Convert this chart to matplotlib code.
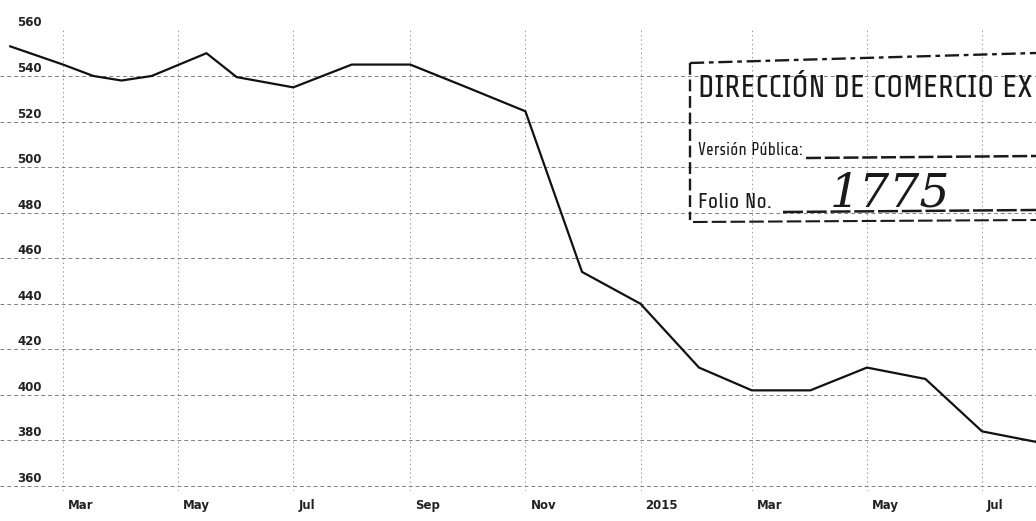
import matplotlib
matplotlib.use("Agg")
import matplotlib.pyplot as plt
import matplotlib.dates as mdates
from matplotlib import font_manager
from matplotlib.textpath import TextPath
from matplotlib.transforms import ScaledTranslation
import pandas as pd

# ---- data ----
dates = ["2014-02-01", "2014-03-01", "2014-03-17", "2014-04-01", "2014-04-17",
         "2014-05-16", "2014-06-01", "2014-07-01", "2014-08-01", "2014-09-01",
         "2014-10-01", "2014-11-01", "2014-12-01", "2015-01-01", "2015-02-01",
         "2015-03-01", "2015-04-01", "2015-05-01", "2015-06-01", "2015-07-01",
         "2015-08-01"]
values = [553, 545, 540, 538, 540,
          550, 539.5, 535, 545, 545,
          535, 524.5, 454, 440, 412,
          402, 402, 412, 407, 384,
          379]
y_ticks = [360, 380, 400, 420, 440, 460, 480, 500, 520, 540, 560]
x_tick_dates = ["2014-03-01", "2014-05-01", "2014-07-01", "2014-09-01", "2014-11-01",
                "2015-01-01", "2015-03-01", "2015-05-01", "2015-07-01"]
x_tick_labels = ["Mar", "May", "Jul", "Sep", "Nov", "2015", "Mar", "May", "Jul"]

stamp_title = "DIRECCIÓN DE COMERCIO EX"
stamp_line1 = "Versión Pública:"
stamp_line2 = "Folio No."
stamp_number = "1775"

W, H = 1036, 521
DPI = 100
fig = plt.figure(figsize=(W / DPI, H / DPI), dpi=DPI)
fig.patch.set_facecolor("white")

# axes: y=560 at px 30.4 from top, y=358 at px 490.6
top_px, bot_px = 30.4, 490.6
ax = fig.add_axes([0, 1 - bot_px / H, 1, (bot_px - top_px) / H])
ax.set_facecolor("white")

x = pd.to_datetime(dates)
ax.plot(x, values, color="#111111", lw=1.6, solid_joinstyle="round", zorder=3)

ax.set_xlim(mdates.date2num(pd.Timestamp("2014-01-26 14:00")),
            mdates.date2num(pd.Timestamp("2015-07-29 14:00")))
ax.set_ylim(358, 560)

for s in ax.spines.values():
    s.set_visible(False)

ax.set_yticks(y_ticks)
ax.set_yticklabels([str(v) for v in y_ticks])
ax.set_xticks(mdates.date2num(pd.to_datetime(x_tick_dates)))
ax.set_xticklabels(x_tick_labels)

ax.tick_params(axis="y", length=0, pad=-12.5, labelsize=8.5, labelcolor="#222222")
ax.tick_params(axis="x", length=0, pad=6, labelsize=8.5, labelcolor="#222222")
for lab in ax.get_yticklabels():
    lab.set_horizontalalignment("left")
    lab.set_verticalalignment("bottom")
    lab.set_fontweight("bold")
    lab.set_transform(lab.get_transform() + ScaledTranslation(0, 1 / 100, fig.dpi_scale_trans))
for lab in ax.get_xticklabels():
    lab.set_horizontalalignment("left")
    lab.set_fontweight("bold")
    lab.set_transform(lab.get_transform() + ScaledTranslation(5 / 100, 0, fig.dpi_scale_trans))

ax.grid(axis="y", color="#808080", lw=0.7, linestyle=(0, (4, 3)), zorder=1)
ax.grid(axis="x", color="#9a9a9a", lw=0.7, linestyle=(0, (1.5, 3)), zorder=1)
ax.yaxis.get_major_ticks()[-1].gridline.set_visible(False)

# ---- stamp ----
def fpx(xp, yp):
    return xp / W, 1 - yp / H

renderer = fig.canvas.get_renderer()


def width_px(s, fp, size):
    t = fig.text(0, 0, s, fontproperties=fp, fontsize=size)
    w = t.get_window_extent(renderer).width
    t.remove()
    return w


def cap_px(fp, size):
    return TextPath((0, 0), "H", size=size, prop=fp).get_extents().height * DPI / 72


# candidate fonts: regular sans faces (narrow/condensed ones included)
candidates = []
for fe in font_manager.fontManager.ttflist:
    nm = fe.name
    if fe.style != "normal" or fe.weight not in (400, "normal", "regular"):
        continue
    if "Mono" in nm or "Serif" in nm or "CJK" in nm:
        continue
    candidates.append(font_manager.FontProperties(fname=fe.fname))

# pick the face whose cap height best matches the stamp when fitted to width
target_w, target_cap = 1034 - 698, 22.0
best, best_err = None, None
for fp in candidates:
    try:
        w = width_px(stamp_title, fp, 20)
        size = 20 * target_w / w
        err = abs(cap_px(fp, size) - target_cap)
    except Exception:
        continue
    if best_err is None or err < best_err:
        best, best_err = fp, err
stamp_fp = best if best is not None else font_manager.FontProperties(family="Liberation Sans")

ink = "#1a1a1a"
bx = 690
# borders
fig.add_artist(plt.Line2D([fpx(bx, 0)[0], 1.0], [fpx(0, 63)[1], fpx(0, 53)[1]],
                          color=ink, lw=1.7, linestyle=(0, (6, 2, 2, 2))))
fig.add_artist(plt.Line2D([fpx(bx, 0)[0]] * 2, [fpx(0, 63)[1], fpx(0, 220)[1]],
                          color=ink, lw=1.7, linestyle=(0, (5, 2))))
fig.add_artist(plt.Line2D([fpx(bx + 3, 0)[0], 1.0], [fpx(0, 222)[1], fpx(0, 220)[1]],
                          color=ink, lw=1.5, linestyle=(0, (7, 2))))
# underlines
fig.add_artist(plt.Line2D([fpx(806, 0)[0], 1.0], [fpx(0, 158)[1], fpx(0, 156)[1]],
                          color=ink, lw=1.8, linestyle=(0, (6, 1.5))))
fig.add_artist(plt.Line2D([fpx(783, 0)[0], 1.0], [fpx(0, 212)[1], fpx(0, 210)[1]],
                          color=ink, lw=1.8, linestyle=(0, (8, 1.5))))


def fit_text(s, x0, x1, ybase, fp):
    t = fig.text(*fpx(x0, ybase), s, ha="left", va="baseline", color=ink,
                 fontproperties=fp)
    t.set_fontsize(20)
    w = t.get_window_extent(renderer).width
    t.set_fontsize(20 * (x1 - x0) / w)
    return t

fit_text(stamp_title, 698, 1034, 97, stamp_fp)
fit_text(stamp_line1, 698, 803, 155, stamp_fp)
fit_text(stamp_line2, 698, 772, 208, stamp_fp)
hand_fp = font_manager.FontProperties(family="DejaVu Serif", style="italic")
fit_text(stamp_number, 830, 950, 207, hand_fp)

fig.savefig("out.png", dpi=DPI, facecolor="white")
